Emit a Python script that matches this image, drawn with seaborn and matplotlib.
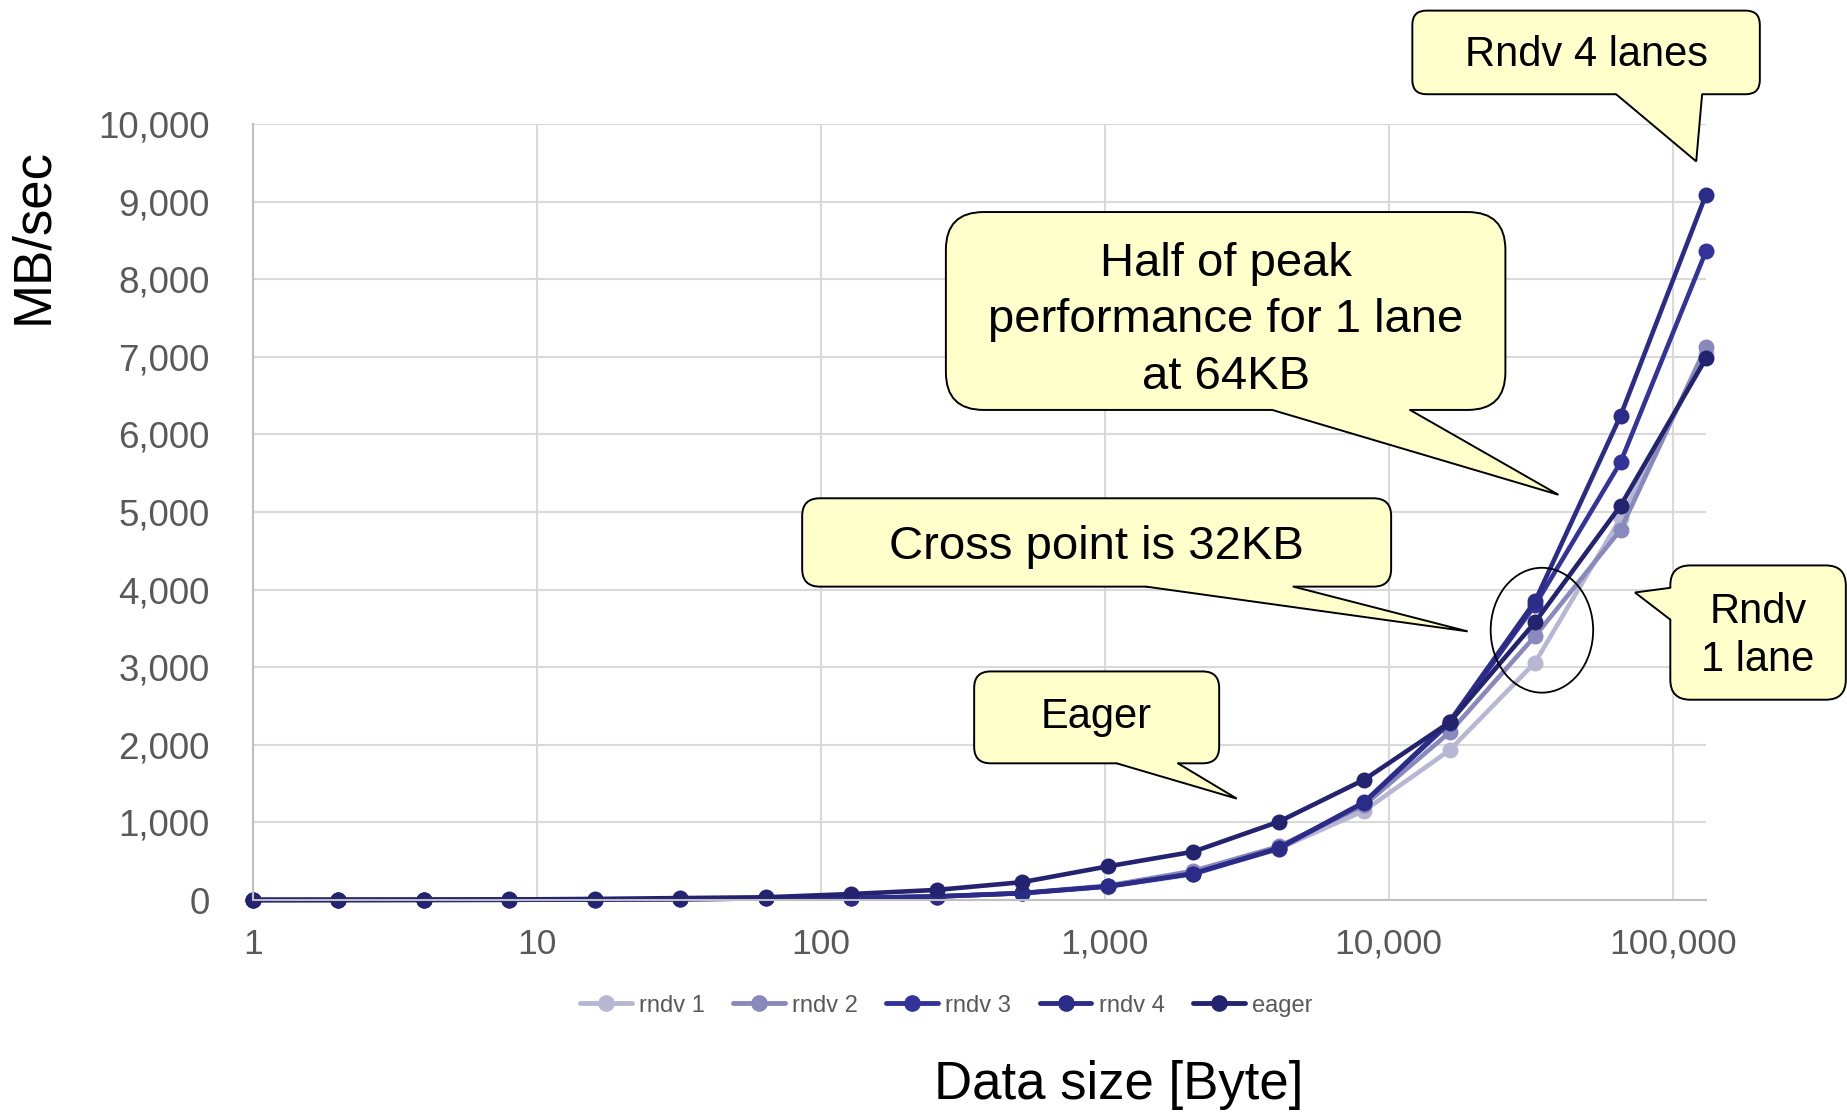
import numpy as np
import pandas as pd
import matplotlib
matplotlib.use("Agg")
import matplotlib.pyplot as plt
import seaborn as sns
from matplotlib.patches import FancyBboxPatch, Polygon, Ellipse
from matplotlib.lines import Line2D
from matplotlib.ticker import FixedLocator, FuncFormatter, NullLocator

# ---- data -------------------------------------------------------------
sizes = [1, 2, 4, 8, 16, 32, 64, 128, 256, 512, 1024, 2048, 4096, 8192,
         16384, 32768, 65536, 131072]
rndv1 = [0.4, 0.8, 1.6, 3, 6, 11, 20, 25, 45, 85, 170, 330, 660, 1150,
         1930, 3060, 4920, 7050]
rndv2 = [0.4, 0.8, 1.6, 3, 6, 11, 20, 26, 47, 90, 185, 375, 690, 1220,
         2160, 3400, 4770, 7130]
rndv3 = [0.4, 0.8, 1.6, 3, 6, 11, 20, 25, 45, 88, 175, 340, 660, 1255,
         2280, 3800, 5640, 8360]
rndv4 = [0.4, 0.8, 1.6, 3, 6, 11, 20, 25, 45, 88, 175, 340, 670, 1260,
         2300, 3850, 6240, 9090]
eager = [1, 2, 4, 7, 14, 25, 35, 77, 130, 230, 433, 622, 1008, 1550,
         2290, 3580, 5080, 6980]

series_names = ["rndv 1", "rndv 2", "rndv 3", "rndv 4", "eager"]
series_colors = ["#b7b7d3", "#8989bd", "#333399", "#2b2b88", "#232370"]
x_ticks = [1, 10, 100, 1000, 10000, 100000]
y_ticks = list(range(0, 10001, 1000))

df = pd.concat([
    pd.DataFrame({"size": sizes, "mbps": vals, "series": name})
    for name, vals in zip(series_names, [rndv1, rndv2, rndv3, rndv4, eager])
], ignore_index=True)

# ---- style ------------------------------------------------------------
sns.set_style("white")
plt.rcParams["font.family"] = ["Liberation Sans", "DejaVu Sans"]

W, H = 1847, 1112
fig = plt.figure(figsize=(W / 100, H / 100), dpi=100)
ax = fig.add_axes([253 / W, 1 - 900 / H, (1706 - 253) / W, (900 - 124) / H])

sns.lineplot(data=df, x="size", y="mbps", hue="series",
             hue_order=series_names, palette=series_colors,
             marker="o", markersize=11.5, markeredgewidth=0,
             linewidth=3.3, ax=ax, legend=True)
for ln in ax.get_lines():
    ln.set_clip_on(False)

ax.set_xscale("log")
ax.set_xlim(1, 131072)
ax.set_ylim(0, 10000)
ax.xaxis.set_major_locator(FixedLocator(x_ticks))
ax.xaxis.set_minor_locator(NullLocator())
ax.yaxis.set_major_locator(FixedLocator(y_ticks))
ax.xaxis.set_major_formatter(FuncFormatter(lambda v, p: f"{int(round(v)):,}"))
ax.yaxis.set_major_formatter(FuncFormatter(lambda v, p: f"{int(round(v)):,}"))

ax.grid(True, which="major", color="#d9d9d9", linewidth=1.5)
ax.set_axisbelow(True)
for side in ("top", "right"):
    ax.spines[side].set_visible(False)
for side in ("left", "bottom"):
    ax.spines[side].set_color("#bfbfbf")
    ax.spines[side].set_linewidth(1.5)
ax.tick_params(axis="both", length=0, labelcolor="#595959")
ax.tick_params(axis="y", pad=31, labelsize=26.5)
ax.tick_params(axis="x", pad=20, labelsize=25.5)

ax.set_xlabel("Data size [Byte]", fontsize=38, color="black", va="center")
ax.set_ylabel("MB/sec", fontsize=38, color="black", va="center")
ax.xaxis.set_label_coords(0.596, -0.239)
ax.yaxis.set_label_coords(-0.151, 0.856)

handles, labels = ax.get_legend_handles_labels()
for h in handles:
    h.set_markersize(12)
    h.set_linewidth(3.5)
leg = ax.legend(handles, labels, loc="center", bbox_to_anchor=(0.477, -0.136),
                ncol=5, frameon=False, fontsize=17, handlelength=2.2,
                handletextpad=0.3, columnspacing=1.2, labelcolor="#595959")

# ---- callouts (positions in a 1568x944 layout grid) --------------------
SX = W / 1568 / 100
SY = H / 944 / 100
YEL = "#ffffcc"


def pt(x, y):
    return (x * SX, (944 - y) * SY)


def bubble(x0, y0, x1, y1, tail, inward, text, size, rad, ls=1.15, tdy=0):
    bl = pt(x0, y1)
    tr = pt(x1, y0)
    box = FancyBboxPatch(bl, tr[0] - bl[0], tr[1] - bl[1],
                         boxstyle=f"round,pad=0,rounding_size={rad * SX}",
                         transform=fig.dpi_scale_trans, fc=YEL, ec="black",
                         lw=1.4, zorder=10)
    fig.add_artist(box)
    b1, tip, b2 = [pt(*p) for p in tail]
    dx, dy = inward[0] * SX, -inward[1] * SY
    poly = Polygon([(b1[0] + dx, b1[1] + dy), b1, tip, b2,
                    (b2[0] + dx, b2[1] + dy)], closed=True, fc=YEL, ec="none",
                   transform=fig.dpi_scale_trans, zorder=11)
    fig.add_artist(poly)
    edge = Line2D([b1[0], tip[0], b2[0]], [b1[1], tip[1], b2[1]],
                  color="black", lw=1.4, transform=fig.dpi_scale_trans,
                  zorder=12, solid_joinstyle="miter")
    fig.add_artist(edge)
    cx, cy = pt((x0 + x1) / 2, (y0 + y1) / 2 + tdy)
    fig.text(cx, cy, text, transform=fig.dpi_scale_trans, ha="center",
             va="center", fontsize=size, color="black", zorder=13,
             linespacing=ls, multialignment="center")


bubble(1199, 9, 1494, 80, [(1372, 80), (1440, 137), (1445, 80)], (0, -4),
       "Rndv 4 lanes", 30, 12, tdy=2)
bubble(803, 180, 1278, 348, [(1080, 348), (1323, 420), (1197, 348)], (0, -4),
       "Half of peak\nperformance for 1 lane\nat 64KB", 34, 32, ls=1.37,
       tdy=8)
bubble(681, 423, 1181, 498, [(973, 498), (1246, 536), (1098, 498)], (0, -4),
       "Cross point is 32KB", 34, 15, tdy=4)
bubble(827, 570, 1035, 648, [(948, 648), (1050, 678), (1000, 648)], (0, -4),
       "Eager", 30, 14)
bubble(1418, 480, 1567, 594, [(1418, 499), (1388, 503), (1418, 526)], (4, 0),
       "Rndv\n1 lane", 30, 17, ls=1.27, tdy=3)

ring = Ellipse(pt(1309, 535), width=87 * SX, height=106 * SY,
               transform=fig.dpi_scale_trans, fill=False, ec="black",
               lw=1.3, zorder=9)
fig.add_artist(ring)

fig.savefig("out.png", dpi=100)
